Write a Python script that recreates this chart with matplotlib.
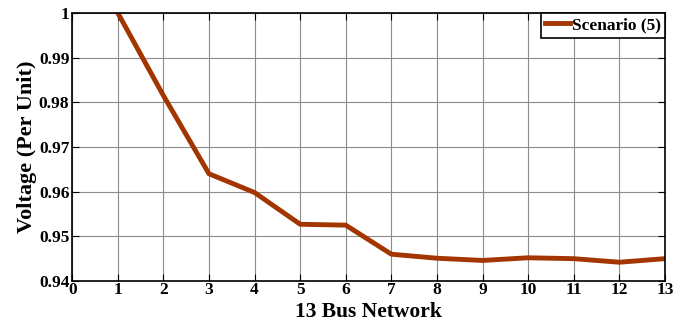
import matplotlib
matplotlib.use("Agg")
import matplotlib.pyplot as plt

buses = [1, 2, 3, 4, 5, 6, 7, 8, 9, 10, 11, 12, 13]
voltage = [1.0, 0.9815, 0.964, 0.9598, 0.9527, 0.9525, 0.946, 0.9451, 0.9446, 0.9452, 0.9450, 0.9442, 0.9450]
series_name = "Scenario (5)"
xticks = list(range(0, 14))
yticks = [0.94, 0.95, 0.96, 0.97, 0.98, 0.99, 1.0]
ytick_labels = ["0.94", "0.95", "0.96", "0.97", "0.98", "0.99", "1"]

plt.rcParams['font.family'] = ['Liberation Serif', 'DejaVu Serif']
plt.rcParams['font.weight'] = 'bold'

fig = plt.figure(figsize=(6.75, 3.23), dpi=100)
ax = fig.add_axes([0.107, 0.130, 0.878, 0.830])
ax.plot(buses, voltage, color='#A33500', linewidth=3.5, label=series_name)
ax.set_xlim(0, 13)
ax.set_ylim(0.94, 1.0)
ax.set_xticks(xticks)
ax.set_yticks(yticks)
ax.set_yticklabels(ytick_labels)
ax.grid(True, color='#8c8c8c', linewidth=0.8)
ax.tick_params(direction='in', top=True, right=True, labelsize=12.5, pad=1, length=5)
ax.tick_params(axis='y', pad=2)
for lab in ax.get_xticklabels() + ax.get_yticklabels():
    lab.set_fontweight('bold')
for s in ax.spines.values():
    s.set_linewidth(1.2)
ax.set_xlabel("13 Bus Network", fontsize=15.5, fontweight='bold')
ax.xaxis.set_label_coords(0.5, -0.078)
ax.set_ylabel("Voltage (Per Unit)", fontsize=16, fontweight='bold', labelpad=1)
leg = ax.legend(loc='upper right', fontsize=12.5, fancybox=False, framealpha=1,
                edgecolor='black', handlelength=1.4, handletextpad=0.1,
                borderaxespad=0.0, borderpad=0.25)
leg.get_frame().set_linewidth(1.2)
for t in leg.get_texts():
    t.set_fontweight('bold')
fig.savefig("out.png", dpi=100)
